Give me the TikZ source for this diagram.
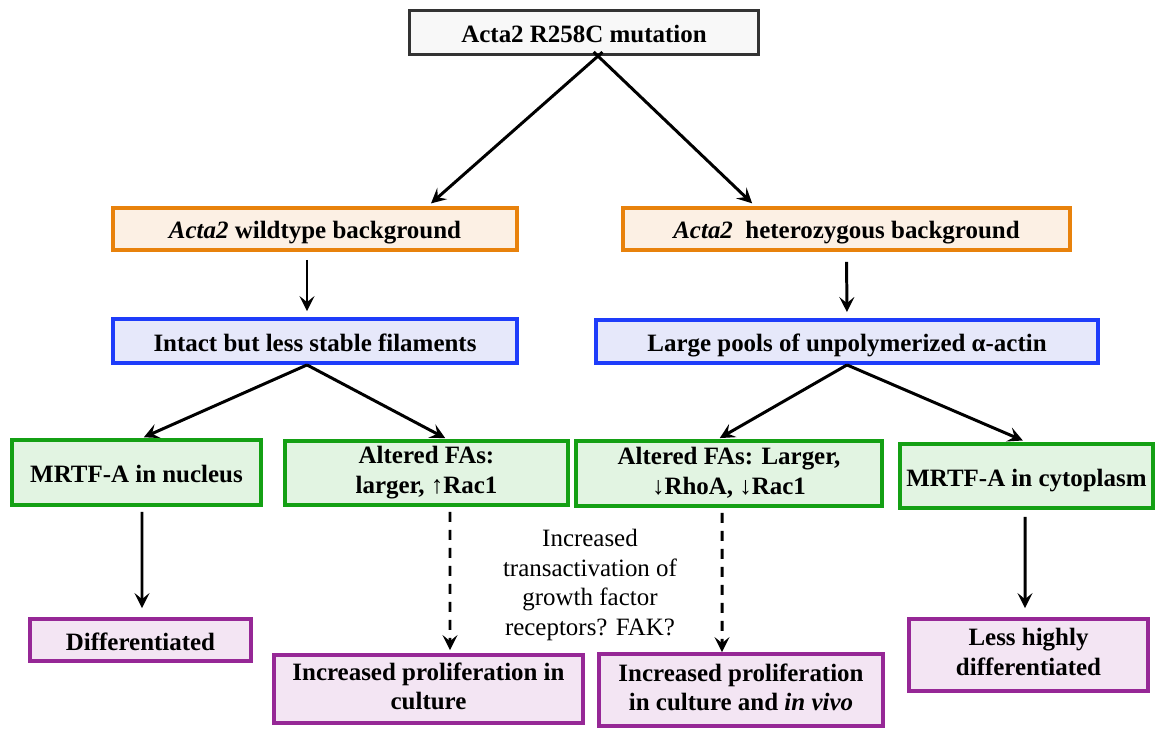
\documentclass[tikz,border=0pt]{standalone}
\usepackage{fontspec}
\setmainfont{Liberation Serif}
\usepackage{xcolor}
\usepackage{tikz}
\usetikzlibrary{positioning,arrows.meta,calc}
\definecolor{TopGray}{RGB}{51, 51, 51}
\definecolor{TopFill}{RGB}{248, 248, 248}
\definecolor{BgOrange}{RGB}{232, 130, 12}
\definecolor{BgOrangeFill}{RGB}{252, 240, 228}
\definecolor{FilBlue}{RGB}{30, 60, 250}
\definecolor{FilBlueFill}{RGB}{230, 232, 250}
\definecolor{FaGreen}{RGB}{20, 160, 20}
\definecolor{FaGreenFill}{RGB}{226, 244, 226}
\definecolor{OutPurple}{RGB}{150, 40, 150}
\definecolor{OutPurpleFill}{RGB}{243, 229, 243}

\begin{document}
\begin{tikzpicture}[x=0.02cm, y=-0.02cm,
    every node/.style={font=\fontsize{14.2}{17}\selectfont\bfseries, align=center, inner sep=0pt},
    box/.style={draw, rectangle, line width=2.2pt,
      execute at begin node={\rule{0pt}{0.51cm}},
      execute at end node={\rule[-0.11cm]{0pt}{0.11cm}}},
    mutbox/.style={box, draw=TopGray, fill=TopFill, line width=1.8pt},
    bgbox/.style={box, draw=BgOrange, fill=BgOrangeFill},
    filbox/.style={box, draw=FilBlue, fill=FilBlueFill},
    fabox/.style={box, draw=FaGreen, fill=FaGreenFill},
    outbox/.style={box, draw=OutPurple, fill=OutPurpleFill},
    link/.style={-{Stealth[length=3mm, width=3mm, inset=1.2mm]}, line width=1.7pt},
    maybe/.style={link, dash pattern=on 0.2cm off 0.16cm}]
    \useasboundingbox (0,0) rectangle (1156,730);

    % top and backgrounds
    \node[mutbox, minimum width=6.98cm, minimum height=0.88cm] (mut) at (584,32.5) {Acta2 R258C mutation};
    \node[bgbox, minimum width=8.08cm, minimum height=0.84cm] (wt) at (315,229) {\textit{Acta2} wildtype background};
    \node[bgbox, minimum width=8.94cm, minimum height=0.84cm] (het) at (846.5,229) {\textit{Acta2}\ \ heterozygous background};

    % filaments
    \node[filbox, minimum width=8.08cm, minimum height=0.88cm] (fil) at (315,341) {Intact but less stable filaments};
    \node[filbox, minimum width=10.04cm, minimum height=0.86cm] (pool) at (847,341.5) {Large pools of unpolymerized α-actin};

    % MRTF-A and FAs
    \node[fabox, minimum width=4.98cm, minimum height=1.3cm] (nuc) at (136.5,472.5) {MRTF-A in nucleus};
    \node[fabox, minimum width=5.66cm, minimum height=1.28cm] (faL) at (426.5,473) {Altered FAs:\\larger, ↑Rac1};
    \node[fabox, minimum width=6.12cm, minimum height=1.3cm] (faR) at (729,473.5) {Altered FAs: Larger,\\↓RhoA, ↓Rac1};
    \node[fabox, minimum width=5.06cm, minimum height=1.28cm] (cyt) at (1026.5,476) {MRTF-A in cytoplasm};

    % outcomes
    \node[outbox, minimum width=4.42cm, minimum height=0.84cm] (diff) at (140.5,640) {Differentiated};
    \node[outbox, minimum width=6.18cm, minimum height=1.36cm] (prolA) at (428.5,689) {Increased proliferation in\\culture};
    \node[outbox, minimum width=5.68cm, minimum height=1.44cm] (prolB) at (741,690) {Increased proliferation\\in culture and \textit{in vivo}};
    \node[outbox, minimum width=4.78cm, minimum height=1.44cm] (less) at (1028.5,655) {Less highly\\differentiated};

    \node[font=\fontsize{14.2}{17}\selectfont] (trans) at (590,585) {Increased\\transactivation of\\growth factor\\receptors? FAK?};

    \draw[link, shorten <=-0.12cm, shorten >=0.08cm] ([xshift=0.28cm]mut.south) -- ([xshift=2.26cm]wt.north);
    \draw[link, shorten <=-0.12cm, shorten >=0.08cm] ([xshift=0.28cm]mut.south) -- ([xshift=-1.83cm]het.north);
    \draw[link, shorten <=0.16cm, shorten >=0.12cm] ([xshift=-0.16cm]wt.south) -- ([xshift=-0.16cm]fil.north);
    \draw[link, shorten <=0.2cm, shorten >=0.12cm] (het.south) -- (pool.north);
    \draw[link, shorten >=0.04cm] ([xshift=-0.16cm]fil.south) -- ([xshift=0.11cm]nuc.north);
    \draw[link, shorten >=0.04cm] ([xshift=-0.16cm]fil.south) -- ([xshift=0.41cm]faL.north);
    \draw[link, shorten >=0.04cm] (pool.south) -- ([xshift=-0.22cm]faR.north);
    \draw[link, shorten >=0.08cm] (pool.south) -- (cyt.north);
    \draw[link, shorten <=0.1cm, shorten >=0.18cm] ([xshift=0.11cm]nuc.south) -- ([xshift=0.03cm]diff.north);
    \draw[maybe, shorten <=0.1cm, shorten >=0.06cm] ([xshift=0.47cm]faL.south) -- ([xshift=0.43cm]prolA.north);
    \draw[maybe, shorten <=0.1cm] ([xshift=-0.14cm]faR.south) -- ([xshift=-0.38cm]prolB.north);
    \draw[link, shorten <=0.14cm, shorten >=0.18cm] ([xshift=-0.03cm]cyt.south) -- ([xshift=-0.07cm]less.north);
  \end{tikzpicture}
\end{document}
